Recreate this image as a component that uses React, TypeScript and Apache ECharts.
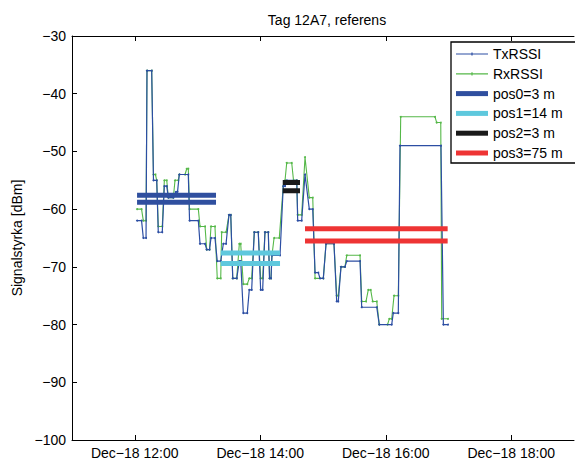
import React, { useEffect, useRef } from "react";
import * as echarts from "echarts";

const chartTitle = "Tag 12A7, referens";
const yAxisName = "Signalstyrka [dBm]";
const xTickHours = [12, 14, 16, 18];
const xTickLabels = ["Dec\u221218 12:00", "Dec\u221218 14:00", "Dec\u221218 16:00", "Dec\u221218 18:00"];

// minutes after 12:00 and dBm
const txMinutes = [2.2, 6.5, 8.2, 10.8, 11.7, 16.2, 17.9, 21.0, 22.5, 26.3, 28.3, 30.6, 32.1, 36.9, 39.4, 40.9, 42.6, 51.2, 52.4, 60.8, 62.4, 67.2, 68.8, 71.5, 72.9, 76.7, 78.9, 82.2, 84.7, 87.3, 90.1, 91.8, 93.7, 97.5, 100.0, 101.3, 103.8, 107.6, 109.5, 111.8, 114.3, 118.1, 120.4, 122.3, 124.5, 127.7, 128.9, 130.3, 131.2, 138.9, 142.0, 143.7, 145.3, 154.9, 155.8, 159.6, 162.8, 166.9, 170.2, 172.4, 175.5, 177.1, 180.3, 182.9, 190.5, 193.1, 194.6, 197.2, 201.0, 202.7, 215.4, 217.0, 231.4, 233.8, 245.7, 247.2, 252.0, 253.6, 292.8, 295.1, 299.5];
const txValues = [-62, -62, -65, -65, -36, -36, -55, -55, -64, -64, -56, -56, -58, -58, -57, -57, -54, -54, -62, -62, -66, -66, -67, -67, -65, -65, -69, -69, -66, -66, -61, -61, -72, -72, -69, -69, -78, -78, -74, -74, -64, -64, -74, -74, -64, -64, -72, -72, -68, -68, -56, -56, -55, -55, -62, -62, -54, -60, -60, -71, -71, -72, -72, -66, -66, -76, -76, -70, -70, -69, -69, -77, -77, -80, -80, -78, -78, -49, -49, -80, -80];

const rxMinutes = [2.2, 6.5, 8.2, 10.8, 11.7, 16.2, 17.9, 19.8, 21.0, 22.5, 26.3, 28.3, 30.6, 32.1, 36.9, 38.5, 41.6, 42.6, 48.1, 49.7, 51.2, 52.4, 60.8, 62.4, 67.2, 68.8, 71.5, 72.9, 76.7, 78.9, 82.2, 83.1, 87.3, 90.1, 91.8, 93.7, 97.5, 100.0, 101.3, 103.8, 107.6, 109.5, 111.8, 114.3, 118.1, 120.4, 122.3, 124.5, 127.7, 128.9, 130.3, 131.2, 133.2, 138.2, 142.0, 143.7, 145.3, 150.1, 151.8, 154.9, 155.8, 159.6, 162.8, 166.9, 170.2, 172.4, 180.3, 182.9, 190.5, 193.1, 194.6, 197.2, 201.0, 202.7, 215.4, 217.0, 221.1, 223.3, 225.6, 227.5, 231.4, 233.8, 241.7, 243.4, 245.7, 247.9, 252.0, 254.3, 287.1, 288.7, 292.6, 293.5, 299.5];
const rxValues = [-60, -60, -62, -62, -36, -36, -54, -54, -55, -63, -63, -55, -55, -58, -58, -55, -55, -54, -54, -53, -53, -60, -60, -63, -63, -67, -67, -63, -63, -72, -72, -64, -64, -61, -61, -72, -72, -66, -66, -73, -73, -72, -72, -64, -64, -72, -72, -64, -64, -72, -72, -68, -65, -65, -56, -55, -52, -52, -55, -55, -61, -61, -51, -58, -58, -72, -72, -66, -66, -75, -75, -70, -70, -68, -68, -76, -76, -74, -74, -76, -76, -80, -80, -79, -79, -75, -75, -44, -44, -45, -45, -79, -79];

const posNames = ["pos0=3 m", "pos1=14 m", "pos2=3 m", "pos3=75 m"];
const posStart = [2.2, 82.2, 141.5, 162.8];
const posEnd = [77.7, 138.9, 158.0, 299.2];
const posUpper = [-57.6, -67.6, -55.4, -63.4];
const posLower = [-58.8, -69.4, -56.8, -65.5];
const posColors = ["#2f4f9f", "#5ec8dd", "#1a1a1a", "#ee3434"];

const FONT = "Liberation Sans";
const TRACE_ICON = "path://M0,1h32v1.2h-32z M15.4,0h1.2v3.2h-1.2z";
const BAR_ICON = "path://M0,0h32v5h-32z";

const toHour = (m: number) => 12 + m / 60;
const pairs = (ms: number[], vs: number[]) => ms.map((m, i) => [toHour(m), vs[i]]);

export default function App() {
  const ref = useRef<HTMLDivElement>(null);
  useEffect(() => {
    if (!ref.current) return;
    const chart = echarts.init(ref.current, undefined, { renderer: "svg" });
    const posSeries: any[] = [];
    posNames.forEach((name, i) => {
      [posUpper[i], posLower[i]].forEach((v) => {
        posSeries.push({
          name,
          type: "line",
          data: [[toHour(posStart[i]), v], [toHour(posEnd[i]), v]],
          symbol: "none",
          lineStyle: { color: posColors[i], width: 5 },
          itemStyle: { color: posColors[i] },
          z: 5,
        });
      });
    });
    const xCommon = {
      type: "value",
      min: 11,
      max: 19,
      splitLine: { show: false },
      axisLine: { show: true, onZero: false, lineStyle: { color: "#000", width: 1 } },
      axisTick: { show: true, inside: true, length: 5, customValues: xTickHours, lineStyle: { color: "#000" } },
    };
    chart.setOption({
      animation: false,
      backgroundColor: "#fff",
      title: {
        text: chartTitle,
        left: 322,
        textAlign: "center",
        top: 8,
        textStyle: { fontFamily: FONT, fontSize: 14, fontWeight: "normal", color: "#000" },
      },
      grid: { left: 72, top: 36, width: 502, height: 404, containLabel: false },
      xAxis: [
        {
          ...xCommon,
          position: "bottom",
          axisLabel: {
            customValues: xTickHours,
            formatter: (v: number) => xTickLabels[xTickHours.indexOf(Math.round(v))] ?? "",
            margin: 6,
            color: "#000",
            fontSize: 14,
            fontFamily: FONT,
          },
        },
        {
          ...xCommon,
          position: "top",
          axisLabel: { show: false },
        },
      ],
      yAxis: {
        type: "value",
        min: -100,
        max: -30,
        interval: 10,
        splitLine: { show: false },
        axisLine: { show: true, onZero: false, lineStyle: { color: "#000", width: 1 } },
        axisTick: { show: true, inside: true, length: 5, lineStyle: { color: "#000" } },
        axisLabel: {
          formatter: (v: number) => String(v).replace("-", "\u2212"),
          margin: 6,
          color: "#000",
          fontSize: 14,
          fontFamily: FONT,
        },
        name: yAxisName,
        nameLocation: "middle",
        nameGap: 46,
        nameTextStyle: { color: "#000", fontSize: 14, fontFamily: FONT },
      },
      legend: {
        data: [
          { name: "TxRSSI", icon: TRACE_ICON },
          { name: "RxRSSI", icon: TRACE_ICON },
          ...posNames.map((n) => ({ name: n, icon: BAR_ICON })),
        ],
        orient: "vertical",
        left: 456,
        top: 47,
        padding: 0,
        itemWidth: 32,
        itemHeight: 14,
        itemGap: 5.8,
        z: 20,
        textStyle: { fontFamily: FONT, fontSize: 14, color: "#000", lineHeight: 14 },
      },
      graphic: [
        {
          type: "rect",
          z: 15,
          shape: { x: 451, y: 42, width: 140, height: 121 },
          style: { fill: "#fff", stroke: "#000", lineWidth: 1.3 },
        },
      ],
      series: [
        {
          name: "RxRSSI",
          type: "line",
          data: pairs(rxMinutes, rxValues),
          symbol: "circle",
          symbolSize: 2,
          showSymbol: true,
          lineStyle: { color: "#55b848", width: 1.1 },
          itemStyle: { color: "#55b848" },
          z: 3,
        },
        {
          name: "TxRSSI",
          type: "line",
          data: pairs(txMinutes, txValues),
          symbol: "circle",
          symbolSize: 2,
          showSymbol: true,
          lineStyle: { color: "#2c4ea3", width: 1.2 },
          itemStyle: { color: "#2c4ea3" },
          z: 4,
        },
        ...posSeries,
      ],
    });
    return () => chart.dispose();
  }, []);
  return <div ref={ref} style={{ position: "fixed", left: 0, top: 0, width: 575, height: 461 }} />;
}
